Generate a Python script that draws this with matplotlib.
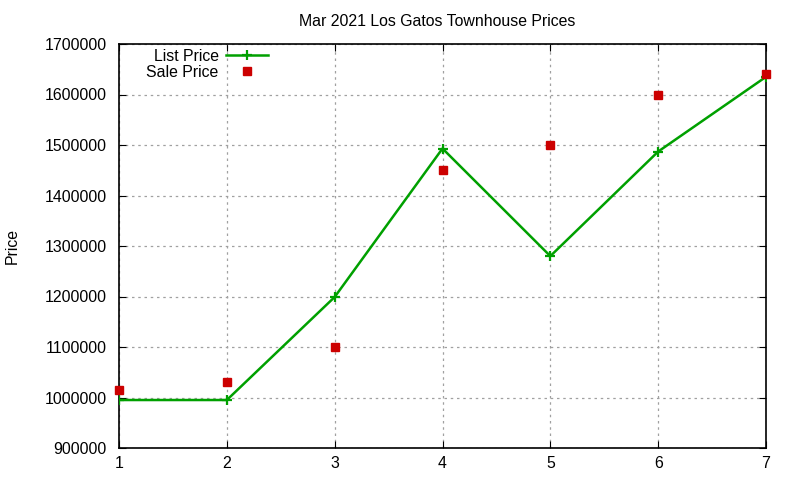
import matplotlib
matplotlib.use("Agg")
import matplotlib.pyplot as plt

x = [1, 2, 3, 4, 5, 6, 7]
list_price = [995000, 995000, 1199000, 1493000, 1280000, 1487000, 1635000]
sale_price = [1015000, 1030000, 1100000, 1450000, 1500000, 1600000, 1640000]
yticks = [900000, 1000000, 1100000, 1200000, 1300000, 1400000, 1500000, 1600000, 1700000]

plt.rcParams['font.family'] = ['Liberation Sans', 'DejaVu Sans']
fig = plt.figure(figsize=(8, 4.8), dpi=100)
ax = fig.add_axes([119/800, 1-448/480, (766-119)/800, (448-44)/480])

ax.plot(x, list_price, color='#00a000', lw=1.8, marker='+', ms=7, mew=1.6, label='List Price', zorder=3)
ax.plot(x, sale_price, color='#cc0000', ls='none', marker='s', ms=6, label='Sale Price', zorder=4, clip_on=False)

ax.set_xlim(1, 7)
ax.set_ylim(900000, 1700000)
ax.set_xticks(x)
ax.set_yticks(yticks)
ax.set_yticklabels([str(v) for v in yticks])
ax.tick_params(direction='in', top=True, right=True, labelsize=11.4, length=5)
ax.tick_params(axis='y', pad=9)
ax.tick_params(axis='x', pad=6)
ax.grid(True, color='#a0a0a0', ls=(0, (2, 3)), lw=0.9)
for s in ax.spines.values():
    s.set_linewidth(1.2)

fig.text(12/800, 1-246/480, 'Price', fontsize=11.4, rotation=90, ha='center', va='center')
fig.text(437/800, 1-21/480, 'Mar 2021 Los Gatos Townhouse Prices', fontsize=11.4, ha='center', va='center')

leg = ax.legend(loc='upper left', bbox_to_anchor=(0.025, 1.015), frameon=False, fontsize=11.4,
                markerfirst=False, handlelength=2.65, handletextpad=0.5, labelspacing=0.05, borderaxespad=0.3)
for t in leg.get_texts():
    t.set_ha('right')
leg._legend_box.align = 'right'

fig.savefig('out.png', dpi=100)
